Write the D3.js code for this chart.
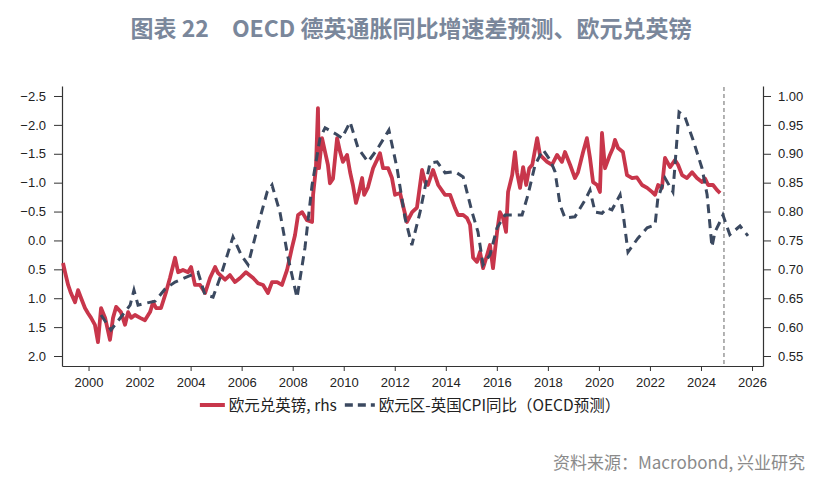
<!DOCTYPE html>
<html>
<head>
<meta charset="utf-8">
<script src="https://cdn.jsdelivr.net/npm/d3@7"></script>
<style>
  html, body { margin: 0; padding: 0; background: #ffffff; }
  svg { display: block; }
</style>
</head>
<body>
<svg id="chart" width="831" height="481"></svg>
<script>
// ---------------- data ----------------
const titleText = "图表 22\u3000OECD 德英通胀同比增速差预测、欧元兑英镑";
const sourceText = "资料来源：Macrobond, 兴业研究";
const seriesNames = ["欧元兑英镑, rhs", "欧元区-英国CPI同比（OECD预测）"];

// EUR/GBP (right axis), decimal years
const fxYears = [1999.00,1999.08,1999.20,1999.31,1999.47,1999.59,1999.71,1999.86,1999.98,2000.10,2000.25,2000.37,2000.49,2000.65,2000.84,2000.96,2001.08,2001.27,2001.43,2001.55,2001.67,2001.82,2002.02,2002.21,2002.41,2002.53,2002.65,2002.84,2003.04,2003.19,2003.39,2003.51,2003.70,2003.90,2004.02,2004.17,2004.37,2004.57,2004.76,2004.96,2005.07,2005.35,2005.54,2005.74,2005.94,2006.17,2006.45,2006.64,2006.84,2007.03,2007.19,2007.39,2007.58,2007.78,2007.97,2008.09,2008.21,2008.37,2008.56,2008.76,2008.80,2008.91,2008.99,2009.03,2009.15,2009.27,2009.38,2009.46,2009.58,2009.74,2009.86,2009.97,2010.13,2010.25,2010.36,2010.48,2010.60,2010.72,2010.80,2010.95,2011.15,2011.30,2011.42,2011.54,2011.74,2011.89,2012.01,2012.21,2012.32,2012.48,2012.68,2012.87,2013.07,2013.19,2013.30,2013.50,2013.70,2013.97,2014.17,2014.36,2014.48,2014.68,2014.83,2014.95,2015.07,2015.22,2015.34,2015.46,2015.62,2015.73,2015.85,2016.01,2016.12,2016.24,2016.36,2016.44,2016.60,2016.71,2016.79,2016.91,2017.03,2017.15,2017.27,2017.39,2017.58,2017.69,2017.81,2017.97,2018.16,2018.36,2018.55,2018.67,2018.87,2019.06,2019.18,2019.38,2019.53,2019.65,2019.77,2019.93,2020.04,2020.12,2020.24,2020.43,2020.55,2020.63,2020.75,2020.94,2021.10,2021.30,2021.49,2021.69,2021.89,2022.08,2022.20,2022.32,2022.47,2022.59,2022.79,2022.98,2023.10,2023.26,2023.45,2023.65,2023.84,2024.04,2024.16,2024.28,2024.47,2024.63,2024.75];
const fxValues = [0.711,0.695,0.673,0.659,0.643,0.664,0.650,0.633,0.624,0.616,0.604,0.574,0.633,0.616,0.578,0.616,0.635,0.626,0.604,0.626,0.616,0.621,0.616,0.612,0.626,0.643,0.633,0.633,0.661,0.685,0.720,0.695,0.699,0.695,0.704,0.673,0.673,0.659,0.685,0.704,0.694,0.682,0.690,0.678,0.685,0.695,0.685,0.676,0.673,0.659,0.678,0.678,0.673,0.699,0.737,0.759,0.794,0.799,0.785,0.782,0.829,0.875,0.979,0.875,0.927,0.903,0.881,0.849,0.857,0.927,0.903,0.886,0.898,0.868,0.846,0.815,0.834,0.858,0.829,0.842,0.875,0.889,0.901,0.875,0.875,0.858,0.829,0.832,0.811,0.782,0.799,0.807,0.872,0.851,0.846,0.872,0.846,0.829,0.829,0.806,0.794,0.794,0.789,0.777,0.720,0.713,0.730,0.702,0.725,0.742,0.702,0.765,0.799,0.789,0.765,0.834,0.863,0.903,0.868,0.841,0.877,0.846,0.875,0.881,0.927,0.898,0.893,0.886,0.881,0.898,0.886,0.903,0.881,0.858,0.868,0.903,0.927,0.893,0.851,0.846,0.834,0.936,0.875,0.898,0.910,0.924,0.910,0.903,0.863,0.858,0.859,0.846,0.841,0.834,0.829,0.846,0.841,0.893,0.877,0.889,0.881,0.863,0.858,0.868,0.858,0.851,0.857,0.846,0.846,0.837,0.832];

// Euro area - UK CPI y/y difference (left axis, inverted), decimal years
const cpiYears = [2000.49,2000.88,2001.63,2001.78,2001.94,2002.21,2002.61,2003.00,2003.39,2004.02,2004.29,2004.56,2004.88,2005.19,2005.66,2005.98,2006.25,2006.72,2007.00,2007.19,2007.50,2007.82,2008.17,2008.48,2008.76,2009.07,2009.27,2009.74,2009.93,2010.25,2010.56,2010.95,2011.30,2011.77,2012.09,2012.40,2012.67,2012.99,2013.38,2013.66,2013.97,2014.36,2014.68,2015.03,2015.26,2015.46,2015.73,2016.01,2016.32,2016.99,2017.22,2017.50,2017.81,2018.09,2018.28,2018.48,2018.67,2019.06,2019.46,2019.65,2019.85,2020.12,2020.32,2020.51,2020.83,2020.94,2021.14,2021.53,2021.89,2022.20,2022.31,2022.59,2022.90,2023.14,2023.37,2023.69,2024.04,2024.24,2024.43,2024.55,2024.74,2024.86,2025.13,2025.53,2025.84];
const cpiValues = [1.29,1.55,1.12,0.86,1.12,1.09,1.05,0.84,0.72,0.60,0.55,0.94,0.98,0.60,-0.06,0.25,0.42,-0.39,-0.84,-0.96,-0.49,0.30,0.99,0.13,-0.96,-1.77,-1.95,-1.83,-1.77,-2.05,-1.60,-1.36,-1.57,-1.91,-1.25,-0.39,0.08,-0.49,-1.34,-1.36,-1.17,-1.19,-1.10,-0.49,-0.15,0.42,0.25,-0.22,-0.44,-0.44,-0.79,-1.31,-1.57,-1.39,-1.19,-0.61,-0.39,-0.41,-0.70,-0.87,-0.49,-0.47,-0.56,-0.53,-0.79,-0.49,0.20,-0.04,-0.22,-0.27,-0.73,-1.08,-0.84,-2.22,-2.14,-1.74,-1.25,-0.79,0.11,-0.15,-0.32,-0.44,-0.10,-0.25,-0.08];

const forecastStart = 2024.90;

const leftTicks = [-2.5,-2.0,-1.5,-1.0,-0.5,0.0,0.5,1.0,1.5,2.0];
const rightTicks = [1.00,0.95,0.90,0.85,0.80,0.75,0.70,0.65,0.60,0.55];
const yearTicks = [2000,2002,2004,2006,2008,2010,2012,2014,2016,2018,2020,2022,2024,2026];

// ---------------- layout ----------------
const svg = d3.select("#chart");
const L = 62, R = 763, T = 86, B = 366;
const redColor = "#c8364b";
const dashColor = "#3b4960";
const axisColor = "#333333";
const numFont = "'Liberation Sans', Arial, sans-serif";
const cjkFont = "'Noto Sans CJK SC', 'Noto Sans', sans-serif";

const x = d3.scaleLinear().domain([1998.96, 2026.43]).range([L, R]);
const yL = d3.scaleLinear().domain([-2.673, 2.173]).range([T, B]);
const yR = d3.scaleLinear().domain([1.0173, 0.5327]).range([T, B]);

// title
svg.append("text")
  .attr("x", 411).attr("y", 37)
  .attr("text-anchor", "middle")
  .attr("font-family", cjkFont)
  .attr("font-weight", "bold")
  .attr("font-size", 23)
  .attr("fill", "#7a879b")
  .text(titleText);

// axes
function styleAxis(g) {
  g.selectAll("path.domain").attr("stroke", axisColor).attr("stroke-width", 1.2);
  g.selectAll(".tick line").attr("stroke", axisColor).attr("stroke-width", 1);
  g.selectAll(".tick text")
    .attr("font-family", numFont)
    .attr("font-size", 13)
    .attr("fill", "#222");
}

const gL = svg.append("g").attr("transform", `translate(${L},0)`)
  .call(d3.axisLeft(yL).tickValues(leftTicks).tickSize(8).tickSizeOuter(0)
    .tickPadding(8).tickFormat(d3.format(".1f")));
styleAxis(gL);

const gR = svg.append("g").attr("transform", `translate(${R},0)`)
  .call(d3.axisRight(yR).tickValues(rightTicks).tickSize(8).tickSizeOuter(0)
    .tickPadding(7).tickFormat(d3.format(".2f")));
styleAxis(gR);

const gB = svg.append("g").attr("transform", `translate(0,${B})`)
  .call(d3.axisBottom(x).tickValues(yearTicks).tickSize(5).tickSizeOuter(0)
    .tickPadding(7).tickFormat(d3.format("d")));
styleAxis(gB);

// forecast divider
svg.append("line")
  .attr("x1", x(forecastStart)).attr("x2", x(forecastStart))
  .attr("y1", T + 1).attr("y2", B)
  .attr("stroke", "#9a9a9a").attr("stroke-width", 1.5)
  .attr("stroke-dasharray", "4,3");

// series
const fxData = fxYears.map((t, i) => [t, fxValues[i]]);
const cpiData = cpiYears.map((t, i) => [t, cpiValues[i]]);

svg.append("path")
  .datum(fxData)
  .attr("fill", "none")
  .attr("stroke", redColor)
  .attr("stroke-width", 3.8)
  .attr("stroke-linejoin", "round")
  .attr("d", d3.line().x(d => x(d[0])).y(d => yR(d[1])));

svg.append("path")
  .datum(cpiData)
  .attr("fill", "none")
  .attr("stroke", dashColor)
  .attr("stroke-width", 3)
  .attr("stroke-dasharray", "9,6")
  .attr("d", d3.line().x(d => x(d[0])).y(d => yL(d[1])));

// legend
const lg = svg.append("g");
const legY = 405;
let cx = 0;
const items = [
  {name: seriesNames[0], color: redColor, dash: null},
  {name: seriesNames[1], color: dashColor, dash: "8,5"}
];
items.forEach((it, i) => {
  const g = lg.append("g");
  g.append("line")
    .attr("x1", cx).attr("x2", cx + (i === 0 ? 25 : 30))
    .attr("y1", legY).attr("y2", legY)
    .attr("stroke", it.color).attr("stroke-width", i === 0 ? 4 : 3.5)
    .attr("stroke-dasharray", it.dash);
  cx += (i === 0 ? 25 : 30) + 4;
  const t = g.append("text")
    .attr("x", cx).attr("y", legY + 5.5)
    .attr("font-family", cjkFont)
    .attr("font-size", 15.5)
    .attr("fill", "#222")
    .text(it.name);
  cx += t.node().getComputedTextLength() + 8;
});
const legW = cx - 8;
lg.attr("transform", `translate(${410 - legW / 2},0)`);

// source
svg.append("text")
  .attr("x", 805).attr("y", 469)
  .attr("text-anchor", "end")
  .attr("font-family", cjkFont)
  .attr("font-size", 17)
  .attr("fill", "#8a8a8a")
  .text(sourceText);
</script>
</body>
</html>
